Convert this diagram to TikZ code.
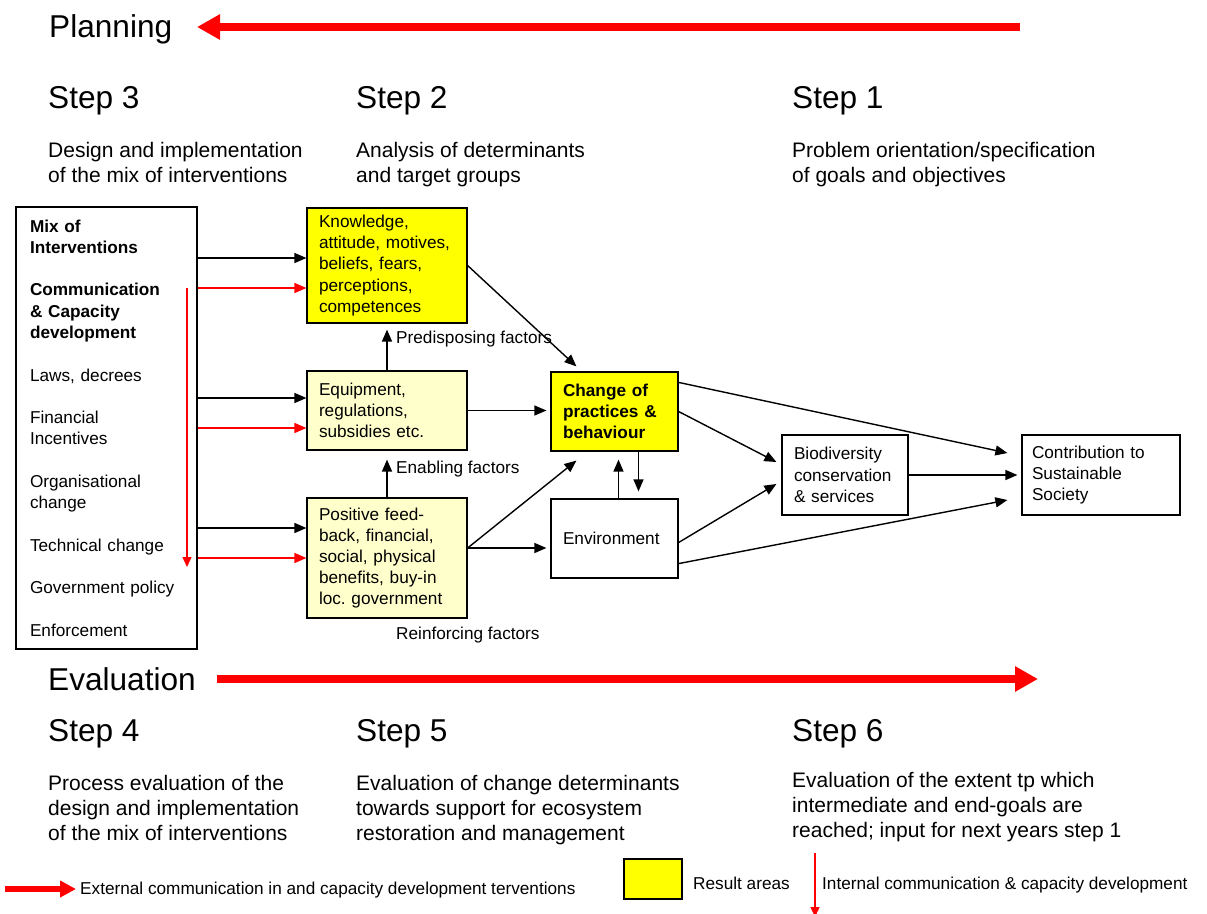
\documentclass[tikz,border=0pt]{standalone}
\usepackage{fontspec}
\setmainfont{Liberation Sans}
\usetikzlibrary{arrows.meta}

\definecolor{resultyellow}{HTML}{FFFF00}
\definecolor{factoryellow}{HTML}{FFFFCC}
\definecolor{commred}{HTML}{FF0000}

\tikzset{
  box/.style={draw, line width=1.2pt, align=left, inner xsep=12pt, inner ysep=3pt,
    font=\fontsize{17.2}{21.2}\selectfont},
  result/.style={box, fill=resultyellow},
  factor/.style={box, fill=factoryellow},
  flow/.style={line width=1.4pt, -{Triangle[length=12pt,width=10pt]}},
  commflow/.style={line width=1.4pt, commred, -{Triangle[length=12pt,width=10pt]}},
  innerflow/.style={line width=1.3pt, commred, -{Triangle[length=10pt,width=9pt]}},
  bigarrow/.style={line width=8pt, commred, -{Triangle[length=23pt,width=24pt]}},
  legendarrow/.style={line width=6pt, commred, -{Triangle[length=16pt,width=16pt]}},
  steptitle/.style={anchor=base west, inner sep=0pt, font=\fontsize{31.6}{38}\selectfont},
  stepnote/.style={anchor=north west, inner sep=0pt, align=left,
    font=\fontsize{21}{25}\selectfont},
  smalltext/.style={anchor=base west, inner sep=0pt, font=\fontsize{17.2}{21.2}\selectfont},
}

\begin{document}
\frenchspacing
\begin{tikzpicture}[x=1pt, y=-1pt]
  \useasboundingbox (0,0) rectangle (1207,913);

  % planning row
  \node[steptitle] (plan) at (49,37) {Planning};
  \coordinate (planstart) at (1020,27);
  \coordinate (planend) at (197,27);
  \draw[bigarrow] (planstart) -- (planend);

  \node[steptitle] (s3) at (48,108) {Step 3};
  \node[steptitle] (s2) at (356,108) {Step 2};
  \node[steptitle] (s1) at (792,108) {Step 1};
  \node[stepnote] (d3) at (48,141.6) {Design and implementation\\of the mix of interventions};
  \node[stepnote] (d2) at (356,141.6) {Analysis of determinants\\and target groups};
  \node[stepnote] (d1) at (792,141.6) {Problem orientation/specification\\of goals and objectives};

  % mix of interventions
  \node[box, minimum width=181pt, minimum height=442pt, text width=153pt, inner xsep=14pt,
    font=\fontsize{17.2}{21.26}\selectfont] (mix) at (106.5,428)
    {{\bfseries Mix of\\Interventions}\\[\baselineskip]
     {\bfseries Communication\\\& Capacity\\development}\\[\baselineskip]
     Laws, decrees\\[\baselineskip]
     Financial\\Incentives\\[\baselineskip]
     Organisational\\change\\[\baselineskip]
     Technical change\\[\baselineskip]
     Government policy\\[\baselineskip]
     Enforcement};
  \draw[innerflow] (187,288) -- (187,567);

  % determinants
  \node[result, minimum width=160pt, minimum height=115pt, text width=136pt] (know) at (387,265.5)
    {Knowledge,\\attitude, motives,\\beliefs, fears,\\perceptions,\\competences};
  \node[factor, minimum width=160pt, minimum height=79pt, text width=136pt] (equip) at (387,410.5)
    {Equipment,\\regulations,\\subsidies etc.};
  \node[factor, minimum width=160pt, minimum height=120pt, text width=136pt] (pos) at (387,558)
    {Positive feed-\\back, financial,\\social, physical\\benefits, buy-in\\loc. government};

  \node[smalltext] (predis) at (396,343) {Predisposing factors};
  \node[smalltext] (enab) at (396,473) {Enabling factors};
  \node[smalltext] (reinf) at (396,639) {Reinforcing factors};

  % outcomes
  \node[result, minimum height=79pt, text width=103pt,
    font=\fontsize{17.2}{21.2}\selectfont\bfseries] (chg) at (614.5,411.5)
    {Change of\\practices \&\\behaviour};
  \node[box, minimum height=79pt, text width=103pt] (env) at (614.5,538.5) {Environment};
  \node[box, minimum height=80pt, text width=102pt] (bio) at (845,475)
    {Biodiversity\\conservation\\\& services};
  \node[box, minimum height=80pt, text width=138pt, inner xsep=10pt] (goal) at (1101,475)
    {Contribution to\\Sustainable\\Society};

  % interventions to determinants
  \draw[flow] (mix.east |- 0,258) -- (know.west |- 0,258);
  \draw[commflow] (mix.east |- 0,288) -- (know.west |- 0,288);
  \draw[flow] (mix.east |- 0,398) -- (equip.west |- 0,398);
  \draw[commflow] (mix.east |- 0,428) -- (equip.west |- 0,428);
  \draw[flow] (mix.east |- 0,528) -- (pos.west |- 0,528);
  \draw[commflow] (mix.east |- 0,558) -- (pos.west |- 0,558);

  \draw[flow, shorten >=6pt] (equip.north) -- (know.south);
  \draw[flow, shorten >=9pt] (pos.north) -- (equip.south);

  % determinants to behaviour
  \draw[flow] (know.east) -- ([xshift=26pt,yshift=5pt]chg.north west);
  \draw[flow, shorten >=4pt] (equip.east) -- (equip.east -| chg.west);
  \coordinate (posout) at ([yshift=10pt]pos.east);
  \draw[flow] (posout) -- ([xshift=26pt,yshift=-9pt]chg.south west);
  \draw[flow, shorten >=4pt] (posout) -- (posout -| env.west);

  \coordinate (chgdown) at ([xshift=24pt]chg.south);
  \draw[flow, shorten >=7pt] (chgdown) -- (chgdown |- env.north);
  \coordinate (envup) at ([xshift=4pt]env.north);
  \draw[flow, shorten >=8pt] (envup) -- (envup |- chg.south);

  % results
  \draw[flow] (chg.east) -- ([xshift=-5pt,yshift=13pt]bio.west);
  \draw[flow] ([yshift=-4pt]env.east) -- ([xshift=-5pt,yshift=-9pt]bio.west);
  \draw[flow] ([yshift=-11pt]chg.north east) -- ([xshift=-14pt,yshift=22pt]goal.west);
  \draw[flow] ([yshift=15pt]env.south east) -- ([xshift=-14pt,yshift=-25pt]goal.west);
  \draw[flow, shorten >=4pt] (bio.east) -- (goal.west);

  % evaluation row
  \node[steptitle] (evalt) at (48,690) {Evaluation};
  \coordinate (evalstart) at (217,679);
  \coordinate (evalend) at (1038,679);
  \draw[bigarrow] (evalstart) -- (evalend);

  \node[steptitle] (s4) at (48,741) {Step 4};
  \node[steptitle] (s5) at (356,741) {Step 5};
  \node[steptitle] (s6) at (792,741) {Step 6};
  \node[stepnote] (d4) at (48,775) {Process evaluation of the\\design and implementation\\of the mix of interventions};
  \node[stepnote] (d5) at (356,775) {Evaluation of change determinants\\towards support for ecosystem\\restoration and management};
  \node[stepnote] (d6) at (792,772) {Evaluation of the extent tp which\\intermediate and end-goals are\\reached; input for next years step 1};

  % legend
  \coordinate (extstart) at (5,889);
  \node[smalltext] (extlbl) at (80,894) {External communication in and capacity development terventions};
  \draw[legendarrow, shorten >=4pt] (extstart) -- (extstart -| extlbl.west);

  \node[result, minimum width=58pt, minimum height=40pt, inner sep=0pt] (legbox) at (653,879) {};
  \node[smalltext] (reslbl) at (693,889) {Result areas};

  \coordinate (intstart) at (815,853);
  \coordinate (intend) at (815,917);
  \draw[innerflow] (intstart) -- (intend);
  \node[smalltext] (intlbl) at (822,889) {Internal communication \& capacity development};
\end{tikzpicture}
\end{document}
